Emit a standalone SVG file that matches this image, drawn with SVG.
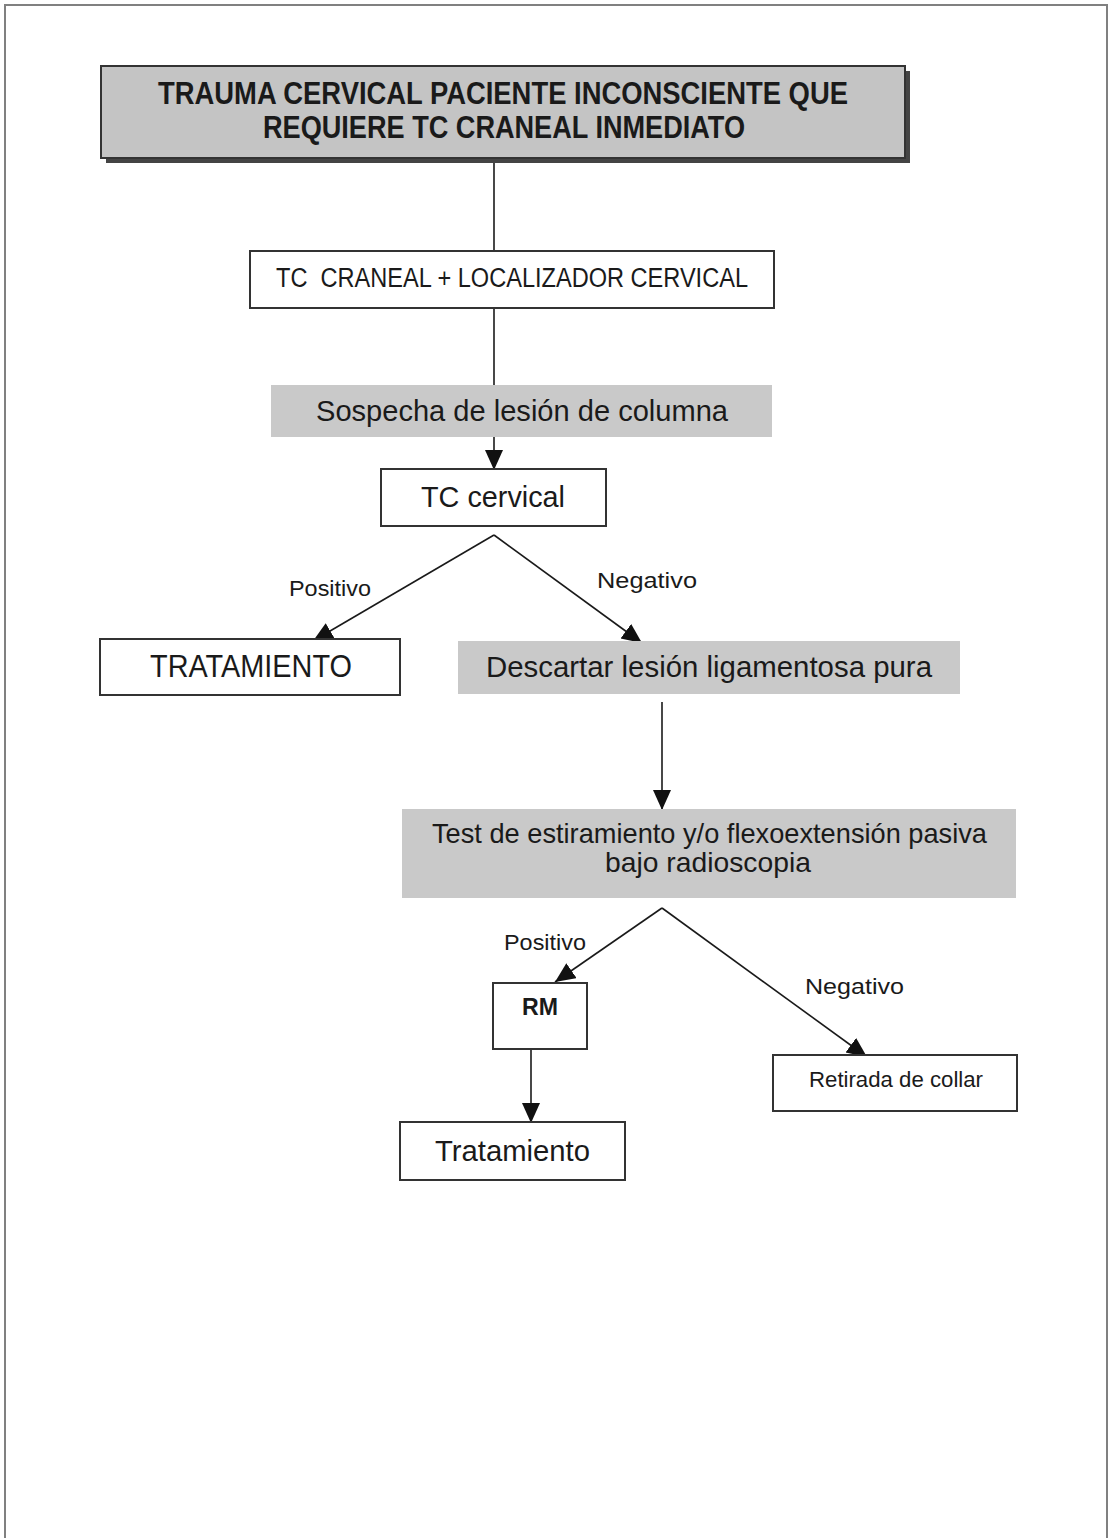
<svg xmlns="http://www.w3.org/2000/svg" width="1111" height="1538" viewBox="0 0 1111 1538">
  <style>
    .box { fill: #ffffff; stroke: #333333; stroke-width: 2; }
    .shade { fill: #c9c9c9; }
    .lbl { font-family: "Liberation Sans", Arial, sans-serif; fill: #1a1a1a; text-anchor: start; white-space: pre; }
    .edge { stroke: #1a1a1a; stroke-width: 1.6; fill: none; }
  </style>
  <defs>
    <marker id="arrow" markerUnits="userSpaceOnUse" markerWidth="22" markerHeight="20" refX="20" refY="9" orient="auto">
      <path d="M0,0 L20,9 L0,18 Z" fill="#111111"/>
    </marker>
  </defs>

  <!-- page frame -->
  <rect x="5" y="5" width="1102" height="1560" fill="#ffffff" stroke="#808080" stroke-width="2"/>

  <!-- connectors -->
  <g id="connectors">
    <line class="edge" x1="494" y1="160" x2="494" y2="251"/>
    <line class="edge" x1="494" y1="309" x2="494" y2="385"/>
    <line class="edge" x1="494" y1="437" x2="494" y2="470" marker-end="url(#arrow)"/>
    <line class="edge" x1="494" y1="535" x2="313" y2="641" marker-end="url(#arrow)"/>
    <line class="edge" x1="494" y1="535" x2="642" y2="643" marker-end="url(#arrow)"/>
    <line class="edge" x1="662" y1="702" x2="662" y2="810" marker-end="url(#arrow)"/>
    <line class="edge" x1="662" y1="908" x2="555" y2="982" marker-end="url(#arrow)"/>
    <line class="edge" x1="662" y1="908" x2="867" y2="1057" marker-end="url(#arrow)"/>
    <line class="edge" x1="531" y1="1049" x2="531" y2="1123" marker-end="url(#arrow)"/>
    <text class="lbl" x="289" y="596" font-size="22" textLength="82" lengthAdjust="spacingAndGlyphs">Positivo</text>
    <text class="lbl" x="597" y="588" font-size="22" textLength="100" lengthAdjust="spacingAndGlyphs">Negativo</text>
    <text class="lbl" x="504" y="950" font-size="22" textLength="82" lengthAdjust="spacingAndGlyphs">Positivo</text>
    <text class="lbl" x="805" y="994" font-size="22" textLength="99" lengthAdjust="spacingAndGlyphs">Negativo</text>
  </g>

  <!-- title node with drop shadow -->
  <g id="title">
    <rect x="106" y="71" width="804" height="92" fill="#444444"/>
    <rect x="101" y="66" width="804" height="92" fill="#c4c4c4" stroke="#333333" stroke-width="2"/>
    <text class="lbl" x="158" y="104" font-size="31" font-weight="bold" textLength="690" lengthAdjust="spacingAndGlyphs">TRAUMA CERVICAL PACIENTE INCONSCIENTE QUE</text>
    <text class="lbl" x="263" y="138" font-size="31" font-weight="bold" textLength="482" lengthAdjust="spacingAndGlyphs">REQUIERE TC CRANEAL INMEDIATO</text>
  </g>

  <g id="tc-craneal">
    <rect class="box" x="250" y="251" width="524" height="57"/>
    <text class="lbl" x="276" y="287" font-size="27" textLength="472" lengthAdjust="spacingAndGlyphs" xml:space="preserve">TC  CRANEAL + LOCALIZADOR CERVICAL</text>
  </g>

  <g id="sospecha">
    <rect class="shade" x="271" y="385" width="501" height="52"/>
    <text class="lbl" x="316" y="421" font-size="30" textLength="412" lengthAdjust="spacingAndGlyphs">Sospecha de lesión de columna</text>
  </g>

  <g id="tc-cervical">
    <rect class="box" x="381" y="469" width="225" height="57"/>
    <text class="lbl" x="421" y="507" font-size="30" textLength="144" lengthAdjust="spacingAndGlyphs">TC cervical</text>
  </g>

  <g id="tratamiento-1">
    <rect class="box" x="100" y="639" width="300" height="56"/>
    <text class="lbl" x="150" y="677" font-size="31" textLength="202" lengthAdjust="spacingAndGlyphs">TRATAMIENTO</text>
  </g>

  <g id="descartar">
    <rect class="shade" x="458" y="641" width="502" height="53"/>
    <text class="lbl" x="486" y="677" font-size="30" textLength="446" lengthAdjust="spacingAndGlyphs">Descartar lesión ligamentosa pura</text>
  </g>

  <g id="test">
    <rect class="shade" x="402" y="809" width="614" height="89"/>
    <text class="lbl" x="432" y="843" font-size="28" textLength="555" lengthAdjust="spacingAndGlyphs">Test de estiramiento y/o flexoextensión pasiva</text>
    <text class="lbl" x="605" y="872" font-size="28" textLength="206" lengthAdjust="spacingAndGlyphs">bajo radioscopia</text>
  </g>

  <g id="rm">
    <rect class="box" x="493" y="983" width="94" height="66"/>
    <text class="lbl" x="522" y="1015" font-size="23" font-weight="bold" textLength="36" lengthAdjust="spacingAndGlyphs">RM</text>
  </g>

  <g id="retirada">
    <rect class="box" x="773" y="1055" width="244" height="56"/>
    <text class="lbl" x="809" y="1087" font-size="22" textLength="174" lengthAdjust="spacingAndGlyphs">Retirada de collar</text>
  </g>

  <g id="tratamiento-2">
    <rect class="box" x="400" y="1122" width="225" height="58"/>
    <text class="lbl" x="435" y="1161" font-size="30" textLength="155" lengthAdjust="spacingAndGlyphs">Tratamiento</text>
  </g>
</svg>
